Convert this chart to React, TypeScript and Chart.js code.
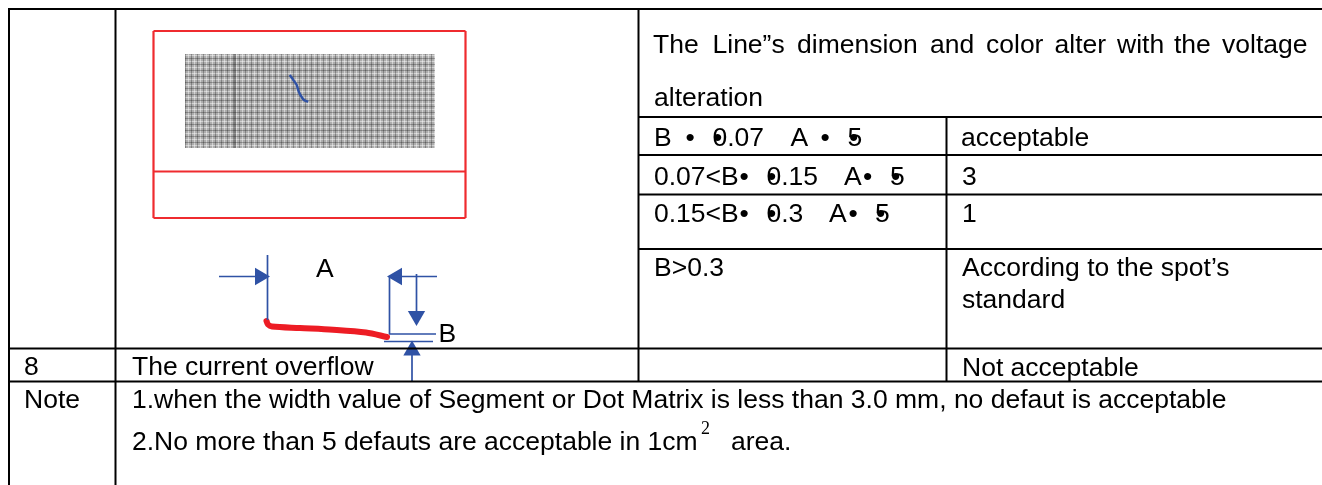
import React, { useEffect, useRef } from "react";
import { Chart, registerables } from "chart.js";

Chart.register(...registerables);

const BLACK = "#000000";
const BLUE = "#2f52a5";
const RED = "#ef2b2f";
const SANS = "'Liberation Sans', Arial, sans-serif";
const SERIF = "'Liberation Serif', serif";

// table rules: [x1, y1, x2, y2]
const tableRules = [
  [8, 9, 1322, 9],
  [9, 8, 9, 485],
  [115.5, 9, 115.5, 485],
  [638.5, 9, 638.5, 382],
  [946.5, 117, 946.5, 382],
  [638, 117, 1322, 117],
  [638, 155, 1322, 155],
  [638, 194.5, 1322, 194.5],
  [638, 249, 1322, 249],
  [9, 348.5, 1322, 348.5],
  [9, 381.5, 1322, 381.5],
];
const redFrame = [
  [153.5, 31, 465.5, 31],
  [153.5, 218, 465.5, 218],
  [153.5, 31, 153.5, 218],
  [465.5, 31, 465.5, 218],
  [153.5, 171.5, 465.5, 171.5],
];
const blueRules = [
  [219, 276.5, 267, 276.5],
  [267.5, 255, 267.5, 320],
  [389.5, 276.5, 437, 276.5],
  [389.5, 276, 389.5, 334],
  [416.5, 274, 416.5, 312],
  [389, 334, 436, 334],
  [384, 341.5, 433, 341.5],
  [412, 352, 412, 381],
];
const spotCurve = [
  { x: 289.7, y: 75 }, { x: 293, y: 79.5 }, { x: 296.7, y: 85 }, { x: 298.5, y: 91 },
  { x: 301, y: 96 }, { x: 304, y: 100 }, { x: 308.3, y: 101.7 },
];
const redCurve = [
  { x: 266.5, y: 321 }, { x: 268, y: 324.5 }, { x: 272, y: 326.5 }, { x: 300, y: 328 },
  { x: 333, y: 329.7 }, { x: 366, y: 332.5 }, { x: 387, y: 337 },
];
// arrow heads: [x, y, rotation]
const arrowHeads = [
  [260, 276.5, 90],
  [397, 276.5, 270],
  [416.5, 316, 180],
  [412, 350.5, 0],
];
// text runs: [text, x, baseline]
const words1: [string, number][] = [
  ["The", 653], ["Line\u201ds", 712.5], ["dimension", 797], ["and", 930], ["color", 986],
  ["alter", 1054.5], ["with", 1117], ["the", 1174], ["voltage", 1222],
];
const textRuns: [string, number, number][] = [
  ["alteration", 654, 106],
  ["B", 654, 145.5], ["\u2022", 685.5, 145.5], ["0.07", 712.5, 145.5], ["\u2022", 713, 145.5], ["A", 790.5, 145.5], ["\u2022", 820.5, 145.5], ["5", 847.5, 145.5], ["\u2022", 849, 145.5],
  ["0.07<B", 654, 184.5], ["\u2022", 739.5, 184.5], ["0.15", 766.5, 184.5], ["\u2022", 767, 184.5], ["A", 844, 184.5], ["\u2022", 863, 184.5], ["5", 890, 184.5], ["\u2022", 891, 184.5],
  ["0.15<B", 654, 222], ["\u2022", 739.5, 222], ["0.3", 766.5, 222], ["\u2022", 767, 222], ["A", 829, 222], ["\u2022", 848.5, 222], ["5", 875, 222], ["\u2022", 876, 222],
  ["acceptable", 961, 145.5], ["3", 962, 184.5], ["1", 962, 222],
  ["According to the spot\u2019s", 962, 276], ["standard", 962, 308], ["B>0.3", 654, 276],
  ["A", 316, 277], ["B", 438.5, 342],
  ["8", 24, 375], ["The current overflow", 132, 375], ["Not acceptable", 962, 375.5],
  ["Note", 24, 408],
  ["1.when the width value of Segment or Dot Matrix is less than 3.0 mm, no defaut is acceptable", 132, 408],
  ["2.No more than 5 defauts are acceptable in 1cm", 132, 449.5], ["area.", 731, 449.5],
];
const TEXT_SIZE = 26.5;
const superRun: [string, number, number] = ["2", 701, 434];
const halftoneBox = { x1: 185, y1: 54, x2: 435, y2: 148, stripe: 234 };

const seg = (list: number[][]) =>
  list.flatMap(([a, b, c, d]) => [{ x: a, y: b }, { x: c, y: d }, { x: NaN, y: NaN }]);

function makePattern(ctx: CanvasRenderingContext2D) {
  const c = document.createElement("canvas");
  c.width = 6;
  c.height = 6;
  const g = c.getContext("2d")!;
  g.fillStyle = "#adadad";
  g.fillRect(0, 0, 6, 6);
  g.fillStyle = "rgba(255,255,255,0.45)";
  g.fillRect(0, 1, 6, 1);
  g.fillRect(2, 0, 1, 6);
  g.fillStyle = "rgba(0,0,0,0.25)";
  g.fillRect(0, 4, 6, 1);
  g.fillRect(5, 0, 1, 6);
  return ctx.createPattern(c, "repeat")!;
}

const halftonePlugin = {
  id: "halftone",
  beforeDatasetsDraw(chart: any) {
    const { ctx, scales } = chart;
    const { x, y } = scales;
    const b = halftoneBox;
    ctx.save();
    ctx.fillStyle = makePattern(ctx);
    ctx.fillRect(x.getPixelForValue(b.x1), y.getPixelForValue(b.y1), b.x2 - b.x1, b.y2 - b.y1);
    ctx.fillStyle = "rgba(0,0,0,0.3)";
    ctx.fillRect(x.getPixelForValue(b.stripe), y.getPixelForValue(b.y1), 2, b.y2 - b.y1);
    ctx.restore();
  },
};

const textPlugin = {
  id: "tableText",
  afterDatasetsDraw(chart: any) {
    const { ctx, scales } = chart;
    const { x, y } = scales;
    ctx.save();
    ctx.fillStyle = "#000";
    ctx.textBaseline = "alphabetic";
    ctx.font = `${TEXT_SIZE}px ${SANS}`;
    words1.forEach(([t, px]) => ctx.fillText(t, x.getPixelForValue(px), y.getPixelForValue(53)));
    textRuns.forEach(([t, px, py]) => ctx.fillText(t, x.getPixelForValue(px), y.getPixelForValue(py)));
    ctx.font = `18px ${SERIF}`;
    ctx.fillText(superRun[0], x.getPixelForValue(superRun[1]), y.getPixelForValue(superRun[2]));
    ctx.restore();
  },
};

export default function App() {
  const ref = useRef<HTMLCanvasElement>(null);
  useEffect(() => {
    document.body.style.margin = "0";
    const chart = new Chart(ref.current!, {
      type: "line",
      data: {
        datasets: [
          { data: seg(redFrame), borderColor: RED, borderWidth: 2.2, pointRadius: 0, spanGaps: false },
          { data: spotCurve, borderColor: BLUE, borderWidth: 2.4, pointRadius: 0, tension: 0.25 },
          { data: seg(tableRules), borderColor: BLACK, borderWidth: 2, pointRadius: 0, spanGaps: false },
          { data: seg(blueRules), borderColor: BLUE, borderWidth: 1.7, pointRadius: 0, spanGaps: false },
          { data: redCurve, borderColor: "#ed1c24", borderWidth: 6, pointRadius: 0, tension: 0.3, borderCapStyle: "round" },
          ...arrowHeads.map(([px, py, rot]) => ({
            data: [{ x: px, y: py }],
            showLine: false,
            pointStyle: "triangle",
            pointRadius: 10,
            pointRotation: rot,
            pointBackgroundColor: BLUE,
            pointBorderColor: BLUE,
            pointBorderWidth: 0,
          })),
        ] as any,
      },
      options: {
        animation: false,
        responsive: false,
        layout: { padding: 0, autoPadding: false },
        plugins: { legend: { display: false }, tooltip: { enabled: false } },
        scales: {
          x: { type: "linear", min: 0, max: 1322, display: false },
          y: { type: "linear", min: 0, max: 485, reverse: true, display: false },
        },
      },
      plugins: [halftonePlugin, textPlugin],
    });
    return () => chart.destroy();
  }, []);
  return (
    <div style={{ width: 1322, height: 485, background: "#fff", overflow: "hidden" }}>
      <canvas ref={ref} width={1322} height={485} style={{ display: "block", width: 1322, height: 485 }} />
    </div>
  );
}
